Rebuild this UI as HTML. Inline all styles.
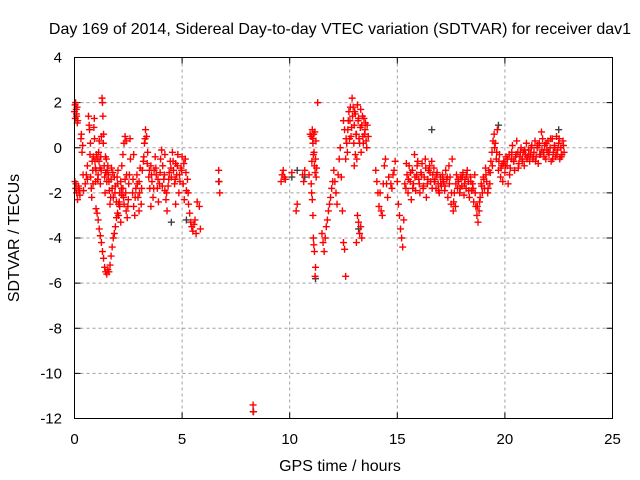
<!DOCTYPE html>
<html><head><meta charset="utf-8"><style>
html,body{margin:0;padding:0;background:#fff}
svg{display:block;font-family:"Liberation Sans",sans-serif}
</style></head><body>
<svg id="chart" width="640" height="480" viewBox="0 0 640 480" xmlns="http://www.w3.org/2000/svg">
<rect width="640" height="480" fill="#fff"/>
<text x="340" y="34" font-size="16" text-anchor="middle">Day 169 of 2014, Sidereal Day-to-day VTEC variation (SDTVAR) for receiver dav1</text>
<text x="340" y="471" font-size="16" text-anchor="middle">GPS time / hours</text>
<text x="19" y="238" font-size="16" text-anchor="middle" transform="rotate(-90 19 238)">SDTVAR / TECUs</text>
<g id="grid"></g><g id="ticks"></g><g id="pts"></g>
<rect x="74.5" y="57.5" width="538" height="361" fill="none" stroke="#000" stroke-width="1"/>
</svg>
<script>
const xTicks=[0,5,10,15,20,25];
const yTicks=[4,2,0,-2,-4,-6,-8,-10,-12];
const hours=[0,0.03,0.05,0.08,0.1,0.12,0.15,0.02,0.06,0.1,0.14,0.18,0.22,0.25,0.3,0.32,0.35,0.38,0.4,0.42,
0.5,0.55,0.6,0.65,0.7,0.72,0.75,0.78,0.8,0.85,0.88,0.9,0.92,0.95,0.98,1.0,
1.0,1.05,1.1,1.15,1.2,1.25,1.3,1.35,1.4,1.45,1.5,1.55,1.6,1.65,1.7,1.75,1.8,1.85,1.9,1.95,2.0,2.05,2.1,2.15,2.2,2.25,2.3,2.35,2.4,
1.05,1.1,1.12,1.15,1.18,1.2,1.22,1.25,1.28,1.3,1.32,1.35,1.38,1.4,1.42,1.45,1.48,1.5,1.55,1.58,1.62,1.65,1.7,1.72,1.75,1.8,1.85,1.9,1.95,2.0,2.02,2.05,2.1,2.15,2.2,2.25,2.3,2.35,2.4,2.45,2.5,2.55,2.6,
2.7,2.75,2.8,2.85,2.9,2.95,3.0,3.05,3.1,3.15,3.2,3.25,3.3,3.35,3.4,3.45,3.5,3.55,3.6,3.65,3.7,3.75,3.8,3.85,3.9,3.95,4.0,4.05,4.1,4.15,4.2,4.25,4.3,4.35,4.4,4.45,4.5,4.55,4.6,4.65,4.7,4.75,4.8,4.85,4.9,4.95,5.0,5.05,5.1,5.15,5.2,5.25,5.3,5.35,5.4,5.45,5.5,5.55,5.6,5.65,5.7,5.8,5.85,
2.75,3.0,3.55,4.2,4.7,
6.7,6.72,6.75,8.3,8.32,
9.6,9.65,9.7,9.75,9.8,10.1,10.3,10.35,10.6,10.65,10.7,
11.0,11.05,11.08,11.1,11.12,11.15,11.18,11.2,11.22,11.25,11.0,11.02,11.05,11.08,11.1,11.12,11.15,11.18,11.2,11.3,
11.5,11.55,11.6,11.65,11.7,11.75,11.8,11.85,11.9,11.95,12.0,12.05,12.1,12.15,12.2,12.25,12.3,12.35,12.4,12.45,12.5,12.55,12.6,12.5,12.55,
12.6,12.65,12.7,12.75,12.8,12.85,12.9,12.95,13.0,13.05,13.1,13.12,13.15,13.2,13.25,13.3,13.35,13.4,13.45,13.5,13.55,13.6,13.0,13.05,13.15,13.2,13.25,13.3,13.35,13.1,
14.0,14.05,14.1,14.15,14.2,14.25,14.3,14.35,14.4,14.45,14.6,14.7,14.8,14.9,15.0,15.05,15.1,15.15,15.2,15.25,15.3,
15.4,15.45,15.5,15.55,15.6,15.65,15.7,15.75,15.8,15.85,15.9,15.95,16.0,16.05,16.1,16.15,16.2,16.25,16.3,16.35,16.4,16.45,16.5,16.55,16.6,16.65,16.7,16.75,16.8,16.85,16.9,16.95,17.0,17.05,17.1,17.15,17.2,17.25,17.3,17.35,17.4,17.45,17.5,17.55,17.6,17.65,17.7,17.75,17.8,17.85,17.9,17.95,18.0,18.05,18.1,18.15,18.2,18.25,18.3,18.35,18.4,18.45,18.5,18.55,18.6,18.65,18.7,18.75,18.8,18.85,18.9,18.95,19.0,19.05,19.1,19.15,19.2,19.25,19.3,19.35,19.4,19.45,19.5,19.55,19.6,19.65,19.7,19.75,19.8,19.85,19.9,19.95,20.0,20.05,20.1,20.15,20.2,20.25,20.3,20.35,20.4,20.45,20.5,20.55,20.6,20.65,20.7,20.75,20.8,20.85,20.9,20.95,21.0,21.05,21.1,21.15,21.2,21.25,21.3,21.35,21.4,21.45,21.5,21.55,21.6,21.65,21.7,21.75,21.8,21.85,21.9,21.95,22.0,22.05,22.1,22.15,22.2,22.25,22.3,22.35,22.4,22.45,22.5,22.55,22.6,22.65,22.7,22.75];
const sdtvar=[1.6,1.9,2.0,1.7,1.4,1.8,1.2,-1.5,-1.8,-2.0,-2.3,-1.7,-1.9,-2.1,0.4,0.6,-0.2,0.1,-1.2,-1.9,
-1.6,-1.2,-0.8,1.4,0.8,-0.3,-1.3,-1.8,-2.2,-1.0,-0.4,0.9,1.3,-0.6,-1.5,-1.0,
-2.7,-2.9,-3.2,-3.6,-3.9,-4.2,-4.6,-4.9,-5.3,-5.5,-5.6,-5.4,-5.5,-5.2,-4.8,-4.4,-4.0,-3.8,-3.5,-3.1,-2.9,-2.5,-2.0,-1.5,-0.8,-0.3,0.2,0.5,0.3,
-0.5,-1.2,-0.2,0.3,-0.9,-1.6,-0.4,0.5,2.2,2.0,1.4,0.6,-0.8,-1.3,-2.0,-1.1,-0.5,-1.5,-0.8,-1.2,-1.9,-2.5,-1.4,-0.9,-1.8,-2.2,-1.3,-1.7,-2.4,-1.6,-1.0,-3.0,-2.6,-3.3,-2.1,-1.8,-2.5,-1.4,-2.8,-3.1,-2.3,-1.2,-0.5,
-2.0,-2.6,-3.0,-1.8,-1.2,-2.2,-1.5,-0.9,-2.5,-1.0,-0.6,0.2,0.8,0.5,-0.2,-1.3,-1.8,-0.8,-1.5,-2.2,-1.0,-0.4,-1.2,-1.8,-2.4,-1.6,-0.5,-0.1,-0.8,-1.4,-1.9,-2.3,-2.8,-1.7,-1.1,-0.6,-1.3,-0.2,-1.0,-1.6,-0.7,-1.2,-0.3,-2.0,-1.5,-0.9,-0.4,-1.6,-2.3,-0.5,-1.9,-1.4,-2.5,-2.9,-3.3,-3.5,-3.7,-3.4,-3.2,-3.8,-2.4,-2.6,-3.6,
-0.3,-2.8,-2.6,-0.3,-2.5,
-1.0,-1.5,-2.0,-11.4,-11.7,
-1.5,-1.2,-1.0,-1.3,-1.4,-1.1,-2.8,-2.5,-1.2,-1.5,-1.0,
0.5,0.8,0.2,-0.3,0.6,-0.8,-1.1,-0.5,0.3,-0.9,-1.6,-2.0,-2.3,-3.0,-4.0,-4.3,-4.6,-5.7,-5.3,2.0,
-3.8,-4.2,-4.6,-4.0,-3.5,-3.2,-2.8,-2.5,-2.2,-1.8,-1.5,-1.0,-1.5,-2.0,-2.5,-1.2,-0.5,0.0,-1.3,-2.8,-4.2,-4.5,-5.7,1.2,0.8,
-0.5,0.2,0.8,1.6,1.2,0.5,2.2,1.8,1.0,1.5,0.6,-0.5,1.9,1.3,0.2,1.7,1.0,0.5,1.3,0.8,0.3,1.0,-0.8,-0.3,-3.0,-3.3,-3.8,-3.5,-4.0,-4.2,
-1.0,-1.5,-2.0,-2.6,-2.0,-2.8,-3.0,-1.6,-0.8,-0.5,-1.3,-1.6,-1.2,-0.6,-1.5,-2.5,-3.0,-3.6,-4.0,-4.4,-3.2,
-1.8,-1.2,-2.0,-0.8,-1.5,-2.3,-1.0,-1.6,-0.3,-1.9,-1.2,-0.6,-1.4,-2.0,-1.1,-0.7,-1.8,-1.3,-0.5,-2.2,-1.6,-1.0,-0.8,-1.5,-0.6,-1.2,-0.9,-1.4,-1.8,-1.1,-1.6,-2.0,-1.3,-1.7,-1.2,-1.5,-1.9,-1.0,-1.4,-2.2,-0.8,-1.3,-2.5,-0.5,-2.8,-2.0,-2.6,-1.2,-1.8,-1.5,-2.0,-1.3,-1.7,-1.1,-2.1,-1.4,-1.8,-1.0,-1.5,-2.2,-1.3,-1.9,-1.6,-2.4,-1.2,-2.6,-3.0,-3.3,-2.8,-2.2,-1.6,-2.0,-1.3,-1.8,-0.9,-1.5,-2.0,-1.0,-1.6,-0.6,-0.2,0.3,0.6,0.2,-0.5,0.8,-1.0,-0.3,-1.3,-0.8,-1.5,-0.6,-1.1,-0.4,-0.8,-1.6,-0.3,-0.9,-0.5,0.1,-0.6,-1.0,-0.4,0.3,-0.2,-0.7,-0.4,0.0,-0.5,-0.2,-0.8,-0.3,0.2,-0.4,-0.1,-0.6,-0.3,0.1,-0.5,-0.2,0.3,-0.4,0.0,-0.7,0.2,-0.3,0.7,0.4,-0.2,0.1,-0.5,-0.1,0.3,-0.3,0.0,-0.6,0.4,-0.2,0.1,-0.4,0.5,-0.1,0.2,-0.5,0.0,-0.3,0.3,-0.2];
const hours2=[0.04,0.09,0.13,0.07,0.2,0.6,0.68,0.74,0.82,0.86,0.93,0.97,1.02,1.08,1.14,1.24,1.34,1.44,1.52,1.6,1.68,1.78,1.88,1.98,2.08,2.18,2.28,2.38,2.42,2.48,2.52,2.58,
2.72,2.82,2.92,3.02,3.12,3.22,3.28,3.38,3.48,3.58,3.68,3.78,3.88,3.98,4.08,4.18,4.28,4.38,4.48,4.58,4.68,4.78,4.88,4.98,5.08,5.18,5.28,
10.9,10.95,11.03,11.07,11.13,11.17,11.23,12.62,12.68,12.72,12.78,12.82,12.88,12.92,12.98,13.02,13.08,13.18,13.22,13.28,13.32,13.38,13.42,13.48,13.52,13.58,13.65,
14.5,14.55,14.75,14.85,15.35,15.42,15.52,15.62,15.72,15.82,15.92,16.02,16.12,16.22,16.32,16.42,16.52,16.62,16.72,16.82,16.92,17.02,17.12,17.22,17.32,17.42,17.52,17.62,17.72,17.82,17.92,18.02,18.12,18.22,18.32,18.42,18.52,18.62,18.72,18.82,18.92,19.02,19.12,19.22,19.32,19.42,19.52,19.62,19.72,19.82,19.92,
20.02,20.12,20.22,20.32,20.42,20.52,20.62,20.72,20.82,20.92,21.02,21.12,21.22,21.32,21.42,21.52,21.62,21.72,21.82,21.92,22.02,22.12,22.22,22.32,22.42,22.52,22.62,22.72];
const sdtvar2=[1.3,1.5,1.1,-1.6,-1.8,-1.4,1.0,0.2,-0.6,-1.6,0.4,-0.9,-0.3,-1.4,-0.6,-1.0,0.2,-0.4,-1.0,-1.5,-2.2,-1.1,-2.0,-1.3,-2.4,-1.8,-2.2,-2.0,-1.2,-2.6,-1.6,0.4,
-1.4,-2.2,-1.6,-2.0,-1.8,-0.4,0.4,-0.7,-1.0,-1.2,-1.8,-0.9,-1.4,-1.1,-1.7,-1.2,-2.0,-1.4,-0.9,-0.6,-1.4,-0.8,-1.2,-1.0,-0.7,-1.1,-2.0,
-1.2,0.6,-0.6,0.4,-0.2,0.7,-1.3,0.4,-0.2,1.2,0.4,1.8,0.9,1.4,0.2,1.6,0.6,1.2,0.4,0.9,-0.2,1.4,0.2,0.6,1.1,0.0,0.5,
-1.6,-2.2,-1.8,-1.0,-1.6,-0.7,-1.4,-1.1,-1.8,-1.3,-0.8,-1.6,-1.2,-1.7,-0.9,-1.4,-1.1,-1.8,-1.5,-1.2,-1.9,-1.6,-1.4,-1.7,-1.3,-1.6,-2.0,-2.4,-1.6,-1.4,-1.8,-1.3,-1.6,-1.2,-1.9,-1.5,-1.8,-2.0,-2.6,-2.4,-1.7,-1.4,-1.2,-1.8,-1.1,-0.8,0.0,-0.2,-0.6,-0.9,-0.7,
-0.8,-0.5,-1.2,-0.2,-0.6,-0.3,-0.9,-0.2,-0.6,-0.1,-0.5,-0.3,0.0,-0.4,-0.6,0.1,-0.3,-0.1,-0.4,0.2,-0.2,0.4,-0.5,0.0,-0.3,0.4,-0.4,0.1];
const hoursB=[4.5,5.2,6.7,8.3,10.1,10.35,10.7,11.2,13.2,16.6,19.7,22.5];
const sdtvarB=[-3.3,-3.2,-1.5,-11.7,-1.3,-1.0,-1.3,-5.8,-3.6,0.8,1.0,0.8];
const X0=74.5,X1=612.5,Y0=57.5,Y1=418.5;
const sx=v=>X0+(v-0)/(25-0)*(X1-X0);
const sy=v=>Y0+(4-v)/(4-(-12))*(Y1-Y0);
const NS='http://www.w3.org/2000/svg';
function mk(tag,attrs,parent){const e=document.createElementNS(NS,tag);for(const k in attrs)e.setAttribute(k,attrs[k]);parent.appendChild(e);return e;}
const grid=document.getElementById('grid'),ticks=document.getElementById('ticks'),pts=document.getElementById('pts');
xTicks.forEach(t=>{const x=sx(t);
 if(t>0&&t<25){const g=mk('line',{x1:x,x2:x,y1:Y0,y2:Y1,stroke:'#a0a0a0','stroke-dasharray':'3,3'},grid);}
 mk('line',{x1:x,x2:x,y1:Y1,y2:Y1-6,stroke:'#000'},ticks);mk('line',{x1:x,x2:x,y1:Y0,y2:Y0+6,stroke:'#000'},ticks);
 const tx=mk('text',{x:x,y:444,'font-size':15,'text-anchor':'middle'},ticks);tx.textContent=t;
 });
yTicks.forEach(t=>{const y=sy(t);
 if(t<4&&t>-12){const g=mk('line',{x1:X0,x2:X1,y1:y,y2:y,stroke:'#a0a0a0','stroke-dasharray':'3,3'},grid);}
 mk('line',{x1:X0,x2:X0+6,y1:y,y2:y,stroke:'#000'},ticks);mk('line',{x1:X1,x2:X1-6,y1:y,y2:y,stroke:'#000'},ticks);
 const tx=mk('text',{x:62,y:y+5,'font-size':15,'text-anchor':'end'},ticks);tx.textContent=t;
 });
function plus(x,y,c,name){const p=mk('path',{d:`M${x-3.5},${y}h7M${x},${y-3.5}v7`,stroke:c,'stroke-width':1.4,fill:'none'},pts);
 }
hoursB.forEach((h,i)=>plus(sx(h),sy(sdtvarB[i]),'#404040','reference-point'));
hours.forEach((h,i)=>plus(sx(h),sy(sdtvar[i]),'#ff0000','sdtvar-point'));
hours2.forEach((h,i)=>plus(sx(h),sy(sdtvar2[i]),'#ff0000','sdtvar-point'));
</script>
</body></html>
